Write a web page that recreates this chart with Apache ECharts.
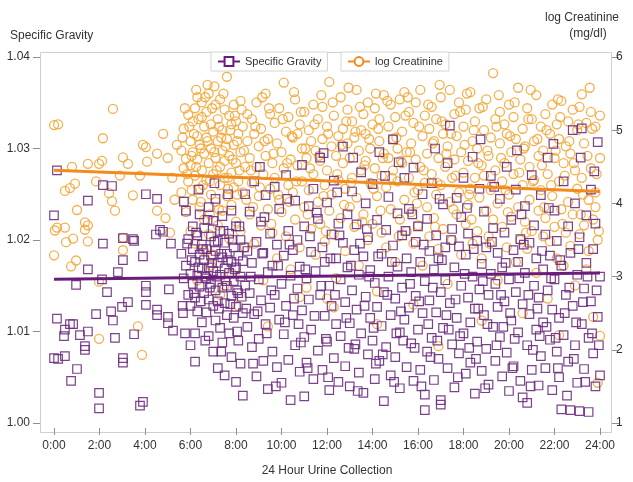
<!DOCTYPE html>
<html>
<head>
<meta charset="utf-8">
<script src="https://cdn.jsdelivr.net/npm/echarts@6/dist/echarts.min.js"></script>
<style>html,body{margin:0;padding:0;background:#fff}#c{width:633px;height:482px}</style>
</head>
<body>
<div id="c"></div>
<script>
// ---- axis ticks ----
const xMin = 0, xMax = 24, xStep = 2;
const sgMin = 1.00, sgMax = 1.04, sgStep = 0.01;
const lcMin = 1, lcMax = 6, lcStep = 1;

// ---- regression lines ----
const sgTrend = [[0,1.0157],[24,1.0164]];
const lcTrend = [[0,4.454],[24,4.163]];

// ---- Specific Gravity points [hour, SG] ----
const sgEarly = [[0.13,1.0276],[0.0,1.0227],[0.13,1.0114],[0.48,1.0102],[0.70,1.0108],[0.84,1.0108],[0.44,1.0095],[1.14,1.0096],[1.49,1.0100],[1.36,1.0084],[1.36,1.0080],[0.0,1.0071],[0.18,1.0070],[0.48,1.0073],[1.01,1.0059],[0.75,1.0046],[1.98,1.0033],[1.98,1.0016],[3.78,1.0019],[3.91,1.0023],[3.03,1.0071],[3.03,1.0066],[0.97,1.0151],[2.33,1.0143],[1.49,1.0168],[2.11,1.0157],[2.81,1.0165],[3.03,1.0178],[3.52,1.0199],[2.15,1.0196],[3.91,1.0182],[4.04,1.0150],[4.04,1.0143],[3.25,1.0132],[2.99,1.0127],[2.51,1.0122],[2.59,1.0112],[1.85,1.0119],[3.52,1.0097],[2.68,1.0093],[4.04,1.0129],[4.53,1.0124],[4.53,1.0118],[5.01,1.0116],[5.01,1.0109],[5.23,1.0101],[5.76,1.0098],[4.48,1.0206],[5.14,1.0196],[5.05,1.0146],[5.67,1.0120],[1.49,1.0243],[2.15,1.0260],[2.55,1.0259],[4.04,1.0250],[4.53,1.0245],[5.71,1.0242],[3.03,1.0202],[3.47,1.0201],[4.66,1.0211],[4.79,1.0209]];
const sgPeak = [[5.6,1.0185],[5.7,1.0158],[5.8,1.0172],[5.9,1.0140],[5.9,1.0201],[6.0,1.0163],[6.0,1.0128],[6.1,1.0190],[6.1,1.0152],[6.1,1.0215],[6.2,1.0176],[6.2,1.0137],[6.2,1.0098],[6.3,1.0161],[6.3,1.0205],[6.3,1.0122],[6.4,1.0184],[6.4,1.0149],[6.4,1.0228],[6.5,1.0169],[6.5,1.0110],[6.5,1.0195],[6.0,1.0085],[6.2,1.0067],[5.8,1.0232],
[6.6,1.0178],[6.6,1.0142],[6.6,1.0213],[6.7,1.0158],[6.7,1.0190],[6.7,1.0121],[6.8,1.0170],[6.8,1.0236],[6.8,1.0135],[6.8,1.0095],[6.9,1.0183],[6.9,1.0152],[6.9,1.0204],[7.0,1.0166],[7.0,1.0128],[7.0,1.0221],[7.0,1.0078],[7.1,1.0188],[7.1,1.0145],[7.1,1.0112],[7.1,1.0245],[7.2,1.0175],[7.2,1.0199],[7.2,1.0133],[7.2,1.0060],[7.3,1.0162],[7.3,1.0210],[7.3,1.0104],[7.4,1.0181],[7.4,1.0148],[7.4,1.0226],[7.4,1.0088],[7.5,1.0169],[7.5,1.0131],[7.5,1.0197],[7.5,1.0052],
[7.6,1.0185],[7.6,1.0150],[7.6,1.0118],[7.7,1.0207],[7.7,1.0164],[7.7,1.0098],[7.8,1.0176],[7.8,1.0139],[7.8,1.0232],[7.8,1.0072],[7.9,1.0192],[7.9,1.0155],[7.9,1.0115],[8.0,1.0170],[8.0,1.0215],[8.0,1.0127],[8.0,1.0045],[8.1,1.0183],[8.1,1.0142],[8.1,1.0090],[8.2,1.0160],[8.2,1.0200],[8.2,1.0065],[8.3,1.0177],[8.3,1.0120],[8.3,1.0030],[8.4,1.0150],[8.4,1.0250],[8.5,1.0188],[8.5,1.0105],
[5.65,1.0128],[5.85,1.0196],[6.05,1.0178],[6.15,1.0142],[6.25,1.0208],[6.35,1.0170],[6.45,1.0133],[6.55,1.0190],[6.65,1.0160],[6.75,1.0222],[6.85,1.0148],[6.95,1.0175],[7.05,1.0198],[7.15,1.0160],[7.25,1.0125],[7.35,1.0185],[7.45,1.0210],[7.55,1.0155],[7.65,1.0178],[7.75,1.0130],[7.85,1.0200],[7.95,1.0168],[8.05,1.0145],[8.15,1.0215],[8.25,1.0138],[8.35,1.0192],[8.45,1.0125],[6.35,1.0255],[7.05,1.0262],[7.65,1.0250],[6.65,1.0090],[7.35,1.0078],[8.05,1.0100]];
const sgDay = [[8.6,1.0231],[8.6,1.0142],[8.7,1.0083],[8.7,1.0175],[8.8,1.0264],[8.8,1.0119],[8.9,1.0051],[8.9,1.0198],[9.0,1.0157],[9.0,1.0092],[9.1,1.0220],[9.1,1.0134],[9.2,1.0068],[9.2,1.0186],[9.3,1.0249],[9.3,1.0108],[9.4,1.0165],[9.4,1.0037],[9.5,1.0207],[9.5,1.0126],
[9.6,1.0078],[9.6,1.0172],[9.7,1.0258],[9.7,1.0140],[9.8,1.0061],[9.8,1.0195],[9.9,1.0113],[9.9,1.0234],[10.0,1.0152],[10.0,1.0044],[10.1,1.0183],[10.1,1.0097],[10.2,1.0271],[10.2,1.0128],[10.3,1.0210],[10.3,1.0069],[10.4,1.0161],[10.4,1.0025],[10.5,1.0189],[10.5,1.0118],
[10.6,1.0243],[10.6,1.0085],[10.7,1.0147],[10.7,1.0200],[10.8,1.0056],[10.8,1.0171],[10.9,1.0282],[10.9,1.0123],[11.0,1.0094],[11.0,1.0215],[11.0,1.0029],[11.1,1.0158],[11.1,1.0066],[11.2,1.0237],[11.2,1.0135],[11.3,1.0187],[11.3,1.0102],[11.4,1.0048],[11.4,1.0256],[11.5,1.0166],
[11.6,1.0079],[11.6,1.0223],[11.7,1.0140],[11.7,1.0290],[11.8,1.0192],[11.8,1.0058],[11.9,1.0117],[11.9,1.0176],[12.0,1.0241],[12.0,1.0089],[12.1,1.0036],[12.1,1.0150],[12.2,1.0206],[12.2,1.0128],[12.3,1.0071],[12.3,1.0265],[12.4,1.0180],[12.4,1.0108],[12.5,1.0045],[12.5,1.0218],
[12.6,1.0157],[12.6,1.0095],[12.7,1.0302],[12.7,1.0197],[12.8,1.0132],[12.8,1.0062],[12.9,1.0228],[12.9,1.0170],[13.0,1.0109],[13.0,1.0040],[13.1,1.0253],[13.1,1.0145],[13.2,1.0081],[13.2,1.0189],[13.3,1.0217],[13.3,1.0124],[13.4,1.0055],[13.4,1.0162],[13.5,1.0274],[13.5,1.0098],
[13.6,1.0182],[13.6,1.0033],[13.7,1.0138],[13.7,1.0240],[13.8,1.0075],[13.8,1.0203],[13.9,1.0115],[13.9,1.0167],[14.0,1.0261],[14.0,1.0090],[14.1,1.0048],[14.1,1.0153],[14.2,1.0222],[14.2,1.0127],[14.3,1.0296],[14.3,1.0068],[14.4,1.0185],[14.4,1.0106],[14.5,1.0143],[14.5,1.0024],
[14.6,1.0211],[14.6,1.0083],[14.7,1.0160],[14.7,1.0247],[14.8,1.0118],[14.8,1.0052],[14.9,1.0310],[14.9,1.0194],[15.0,1.0136],[15.0,1.0072],[15.1,1.0229],[15.1,1.0171],[15.2,1.0099],[15.2,1.0038],[15.3,1.0205],[15.3,1.0148],[15.4,1.0268],[15.4,1.0113],[15.5,1.0061],[15.5,1.0180],
[15.6,1.0234],[15.6,1.0126],[15.7,1.0087],[15.7,1.0165],[15.8,1.0279],[15.8,1.0046],[15.9,1.0198],[15.9,1.0139]];
const sgLate = [[16.0,1.0102],[16.0,1.0215],[16.1,1.0058],[16.1,1.0176],[16.2,1.0250],[16.2,1.0120],[16.3,1.0014],[16.3,1.0031],[16.3,1.0155],[16.4,1.0078],[16.4,1.0223],[16.5,1.0188],[16.5,1.0134],
[16.6,1.0093],[16.6,1.0262],[16.7,1.0168],[16.7,1.0047],[16.8,1.0205],[16.8,1.0121],[16.9,1.0180],[16.9,1.0070],[17.0,1.0025],[17.0,1.0020],[17.0,1.0143],[17.1,1.0239],[17.1,1.0104],[17.2,1.0192],[17.2,1.0156],[17.3,1.0060],[17.3,1.0284],[17.4,1.0325],[17.4,1.0131],[17.5,1.0212],[17.5,1.0086],
[17.6,1.0170],[17.6,1.0039],[17.7,1.0246],[17.7,1.0115],[17.8,1.0193],[17.8,1.0076],[17.9,1.0150],[17.9,1.0225],[18.0,1.0098],[18.0,1.0268],[18.1,1.0054],[18.1,1.0184],[18.2,1.0137],[18.2,1.0207],[18.3,1.0110],[18.3,1.0066],[18.4,1.0160],[18.4,1.0291],[18.5,1.0125],[18.5,1.0032],
[18.6,1.0199],[18.6,1.0089],[18.7,1.0256],[18.7,1.0146],[18.8,1.0057],[18.8,1.0174],[18.9,1.0118],[18.9,1.0231],[19.0,1.0081],[19.0,1.0192],[19.1,1.0140],[19.1,1.0042],[19.2,1.0270],[19.2,1.0163],[19.3,1.0105],[19.3,1.0213],[19.4,1.0068],[19.4,1.0152],[19.5,1.0186],[19.5,1.0127],
[19.6,1.0245],[19.6,1.0094],[19.7,1.0051],[19.7,1.0170],[19.8,1.0208],[19.8,1.0133],[19.9,1.0280],[19.9,1.0077],[20.0,1.0157],[20.0,1.0035],[20.1,1.0222],[20.1,1.0112],[20.2,1.0189],[20.2,1.0062],[20.3,1.0143],[20.3,1.0255],[20.4,1.0099],[20.4,1.0176],[20.5,1.0046],[20.5,1.0201],
[20.6,1.0130],[20.6,1.0028],[20.7,1.0237],[20.7,1.0164],[20.8,1.0085],[20.8,1.0022],[20.9,1.0197],[20.9,1.0119],[21.0,1.0271],[21.0,1.0058],[21.1,1.0150],[21.1,1.0216],[21.2,1.0102],[21.2,1.0180],[21.3,1.0041],[21.3,1.0137],[21.4,1.0249],[21.4,1.0073],[21.5,1.0168],[21.5,1.0110],
[21.6,1.0206],[21.6,1.0060],[21.7,1.0145],[21.7,1.0290],[21.8,1.0091],[21.8,1.0183],[21.9,1.0124],[21.9,1.0036],[22.0,1.0232],[22.0,1.0157],[22.1,1.0078],[22.1,1.0199],[22.2,1.0115],[22.2,1.0050],[22.3,1.0015],[22.3,1.0172],[22.4,1.0264],[22.4,1.0096],[22.5,1.0140],
[22.6,1.0215],[22.6,1.0067],[22.7,1.0014],[22.7,1.0186],[22.8,1.0320],[22.8,1.0128],[22.9,1.0085],[22.9,1.0240],[23.0,1.0162],[23.0,1.0044],[23.1,1.0013],[23.1,1.0203],[23.2,1.0322],[23.2,1.0108],[23.3,1.0147],[23.3,1.0059],[23.4,1.0227],[23.4,1.0175],[23.5,1.0012],[23.5,1.0093],
[23.6,1.0255],[23.6,1.0133],[23.7,1.0076],[23.7,1.0190],[23.8,1.0040],[23.8,1.0218],[23.9,1.0307],[23.9,1.0116],[24.0,1.0160],[24.0,1.0052]];
const sgFill = [[8.65,1.0160],[8.95,1.0122],[9.15,1.0185],[9.35,1.0098],[9.55,1.0145],[9.85,1.0172],[10.15,1.0110],[10.35,1.0195],[10.55,1.0136],[10.85,1.0088],[11.05,1.0168],[11.25,1.0204],[11.45,1.0117],[11.75,1.0150],[11.95,1.0092],[12.15,1.0180],[12.35,1.0140],[12.55,1.0205],[12.85,1.0115],[13.05,1.0172],[13.25,1.0086],[13.45,1.0196],[13.65,1.0128],[13.85,1.0160],[14.05,1.0104],[14.25,1.0182],[14.45,1.0075],[14.65,1.0140],[14.85,1.0176],[15.05,1.0098],[15.25,1.0122],[15.45,1.0210],[15.65,1.0152],[15.85,1.0082],[16.05,1.0133],[16.25,1.0195],[16.45,1.0108],[16.65,1.0148],[16.85,1.0090],[17.05,1.0178],[17.25,1.0118],[17.45,1.0200],[17.65,1.0135],[17.85,1.0095],[18.05,1.0163],[18.25,1.0082],[18.45,1.0190],[18.65,1.0125],[18.85,1.0155],[19.05,1.0108],[19.25,1.0198],[19.45,1.0085],[19.65,1.0140],[19.85,1.0175],[20.05,1.0120],[20.25,1.0092],[20.45,1.0158],[20.65,1.0195],[20.85,1.0140],[21.05,1.0080],[21.25,1.0125],[21.45,1.0188],[21.65,1.0105],[21.85,1.0158],[22.05,1.0093],[22.25,1.0178],[22.45,1.0120],[22.65,1.0148],[22.85,1.0070],[23.05,1.0190],[23.25,1.0132],[23.45,1.0160],[23.65,1.0098],[23.85,1.0145],
[8.75,1.0065],[9.25,1.0225],[9.75,1.0040],[10.25,1.0245],[10.75,1.0108],[11.15,1.0060],[11.55,1.0230],[12.05,1.0050],[12.45,1.0252],[12.95,1.0082],[13.35,1.0035],[13.75,1.0212],[14.15,1.0065],[14.55,1.0270],[14.95,1.0045],[15.35,1.0090],[15.75,1.0228],[16.15,1.0040],[16.55,1.0072],[16.95,1.0245],[17.35,1.0102],[17.75,1.0050],[18.15,1.0235],[18.55,1.0070],[18.95,1.0038],[19.35,1.0258],[19.75,1.0105],[20.15,1.0060],[20.55,1.0228],[20.95,1.0040],[21.35,1.0095],[21.75,1.0235],[22.15,1.0060],[22.55,1.0030],[22.95,1.0110],[23.35,1.0045],[23.75,1.0275],[23.95,1.0085],
[9.05,1.0280],[11.85,1.0295],[13.15,1.0290],[15.15,1.0285],[16.75,1.0300],[18.75,1.0310],[20.35,1.0298],[21.95,1.0305],[23.15,1.0290]];

// ---- log Creatinine points [hour, log mg/dl] ----
const lcEarly = [[0.0,5.07],[0.18,5.08],[2.59,5.29],[2.15,4.89],[3.91,4.80],[4.04,4.77],[3.03,4.63],[2.11,4.58],[1.98,4.54],[1.49,4.54],[0.79,4.50],[0.48,4.17],[0.70,4.21],[0.92,4.27],[1.85,4.30],[2.42,4.14],[2.55,4.03],[2.68,3.90],[2.90,4.38],[3.25,4.54],[4.09,4.57],[4.53,4.68],[3.47,4.11],[3.78,4.38],[4.53,3.90],[1.01,3.91],[0.13,3.67],[0.48,3.67],[0.53,3.47],[1.36,3.74],[1.36,3.64],[1.49,3.70],[0.84,3.52],[1.49,3.48],[0.04,3.63],[3.03,3.53],[3.03,3.36],[0.0,3.29],[0.75,3.14],[0.97,3.22],[1.98,2.93],[1.98,2.15],[3.69,2.32],[3.87,1.93],[4.8,4.95],[5.0,4.62],[5.2,4.35],[5.3,4.05],[4.9,3.80],[5.4,4.80],[5.1,3.60]];
const lcPeak = [[5.6,4.72],[5.6,4.15],[5.7,5.02],[5.7,4.48],[5.8,3.88],[5.8,4.61],[5.9,5.21],[5.9,4.30],[6.0,4.85],[6.0,3.62],[6.0,4.52],[6.1,5.12],[6.1,4.05],[6.1,4.70],[6.2,5.30],[6.2,4.38],[6.2,3.45],[6.3,4.92],[6.3,4.60],[6.3,5.45],[6.4,4.20],[6.4,4.80],[6.4,3.95],[6.5,5.18],[6.5,4.45],[6.5,5.38],[6.6,4.68],[6.6,3.78],[6.6,5.05],[6.7,4.32],[6.7,4.90],[6.7,5.25],[6.8,4.55],[6.8,3.58],[6.8,5.50],[6.9,4.12],[6.9,4.75],[6.9,5.08],[7.0,4.40],[7.0,4.98],[7.0,3.30],[7.1,5.35],[7.1,4.62],[7.1,4.02],[7.2,4.85],[7.2,5.15],[7.2,3.70],[7.3,4.50],[7.3,5.42],[7.3,4.25],[7.4,4.72],[7.4,3.90],[7.4,5.00],[7.5,4.35],[7.5,5.28],[7.5,4.58],[7.6,5.73],[7.6,4.10],[7.6,4.88],[7.7,5.20],[7.7,3.52],[7.7,4.65],[7.8,4.42],[7.8,5.08],[7.8,3.98],[7.9,4.80],[7.9,5.35],[7.9,4.22],[8.0,4.55],[8.0,3.75],[8.0,5.12],[8.1,4.95],[8.1,4.30],[8.2,5.40],[8.2,3.62],[8.2,4.70],[8.3,4.15],[8.3,5.05],[8.4,4.50],[8.4,3.40],[8.5,4.85],[8.5,5.22],[6.3,2.95],[6.9,3.15],[7.3,2.75],[7.8,3.05],[8.1,2.60],[6.6,3.35],[7.5,2.88],
[5.65,4.90],[5.75,5.30],[5.85,4.40],[5.95,5.05],[6.05,4.65],[6.15,4.95],[6.25,4.50],[6.35,5.15],[6.45,4.75],[6.55,4.25],[6.65,5.45],[6.75,4.85],[6.85,4.30],[6.95,5.30],[7.05,4.70],[7.15,4.45],[7.25,5.05],[7.35,4.90],[7.45,5.50],[7.55,4.78],[7.65,4.35],[7.75,5.00],[7.85,4.60],[7.95,5.20],[8.05,4.85],[8.15,4.45],[8.25,5.28],[8.35,4.72],[8.45,4.05],[6.05,4.18],[6.45,4.02],[6.85,3.85],[7.25,3.92],[7.65,4.20],[8.05,4.12],[6.25,5.55],[7.05,5.60],[6.75,5.62]];
const lcDay = [[8.6,4.62],[8.6,3.85],[8.7,5.15],[8.7,4.28],[8.8,4.95],[8.8,3.45],[8.9,4.50],[8.9,5.38],[9.0,4.10],[9.0,4.78],[9.1,3.70],[9.1,5.02],[9.2,4.40],[9.2,2.95],[9.3,5.50],[9.3,4.65],[9.4,3.92],[9.4,4.88],[9.5,5.22],[9.5,4.20],
[9.6,4.55],[9.6,3.60],[9.7,5.10],[9.7,4.35],[9.8,4.82],[9.8,3.25],[9.9,5.30],[9.9,4.05],[10.0,4.70],[10.0,3.88],[10.1,5.65],[10.1,4.48],[10.2,4.98],[10.2,3.55],[10.3,4.25],[10.3,5.18],[10.4,4.60],[10.4,3.10],[10.5,4.90],[10.5,4.15],
[10.6,5.42],[10.6,3.78],[10.7,4.52],[10.7,4.95],[10.8,3.40],[10.8,5.08],[10.9,4.30],[10.9,4.75],[11.0,5.25],[11.0,3.95],[11.1,4.62],[11.1,2.85],[11.2,5.00],[11.2,4.18],[11.3,4.85],[11.3,3.65],[11.4,5.35],[11.4,4.40],[11.5,4.72],[11.5,3.30],
[11.6,5.15],[11.6,4.02],[11.7,4.58],[11.7,3.72],[11.8,5.32],[11.8,4.88],[11.9,4.25],[11.9,3.48],[12.0,5.05],[12.0,4.45],[12.1,5.66],[12.1,3.90],[12.2,4.78],[12.2,4.12],[12.3,5.20],[12.3,3.58],[12.4,4.65],[12.4,2.98],[12.5,4.92],[12.5,4.32],
[12.6,5.45],[12.6,3.80],[12.7,4.55],[12.7,5.02],[12.8,4.20],[12.8,3.35],[12.9,4.82],[12.9,5.28],[13.0,3.95],[13.0,4.62],[13.1,5.12],[13.1,4.35],[13.2,3.68],[13.2,4.90],[13.3,5.55],[13.3,4.08],[13.4,4.72],[13.4,3.15],[13.5,5.00],[13.5,4.45],
[13.6,3.85],[13.6,5.22],[13.7,4.58],[13.7,4.95],[13.8,3.50],[13.8,5.38],[13.9,4.28],[13.9,4.75],[14.0,5.08],[14.0,3.72],[14.1,4.48],[14.1,5.30],[14.2,4.10],[14.2,2.80],[14.3,4.85],[14.3,5.15],[14.4,4.38],[14.4,3.60],[14.5,4.68],[14.5,5.48],
[14.6,4.22],[14.6,3.40],[14.7,5.05],[14.7,4.62],[14.8,3.92],[14.8,5.35],[14.9,4.45],[14.9,4.88],[15.0,3.20],[15.0,5.18],[15.1,4.30],[15.1,4.75],[15.2,5.42],[15.2,3.78],[15.3,4.55],[15.3,4.98],[15.4,5.52],[15.4,4.05],[15.5,3.62],[15.5,4.70],
[15.6,5.25],[15.6,4.35],[15.7,3.88],[15.7,4.82],[15.8,5.10],[15.8,3.45],[15.9,4.60],[15.9,5.38]];
const lcLate = [[16.0,4.18],[16.0,3.70],[16.1,5.55],[16.1,4.50],[16.2,4.92],[16.2,3.15],[16.3,4.28],[16.3,5.20],[16.4,3.95],[16.4,4.68],[16.5,5.02],[16.5,3.55],
[16.6,4.40],[16.6,5.32],[16.7,3.80],[16.7,4.85],[16.8,5.15],[16.8,4.12],[16.9,3.38],[16.9,4.62],[17.0,5.45],[17.0,4.25],[17.1,4.95],[17.1,3.65],[17.2,5.08],[17.2,4.50],[17.3,2.90],[17.3,4.78],[17.4,5.55],[17.4,4.02],[17.5,4.35],[17.5,3.50],
[17.6,5.22],[17.6,4.60],[17.7,3.85],[17.7,4.92],[17.8,5.38],[17.8,4.15],[17.9,3.30],[17.9,4.70],[18.0,5.05],[18.0,4.42],[18.1,3.72],[18.1,5.28],[18.2,4.58],[18.2,3.98],[18.3,5.52],[18.3,4.20],[18.4,4.85],[18.4,3.45],[18.5,5.12],[18.5,4.35],
[18.6,3.62],[18.6,4.75],[18.7,5.30],[18.7,4.08],[18.8,4.52],[18.8,3.25],[18.9,5.00],[18.9,4.38],[19.0,3.90],[19.0,5.42],[19.1,4.65],[19.1,3.55],[19.2,4.90],[19.2,4.18],[19.3,5.78],[19.3,3.78],[19.4,4.45],[19.4,5.15],[19.5,4.00],[19.5,2.95],
[19.6,4.82],[19.6,5.25],[19.7,3.68],[19.7,4.30],[19.8,5.08],[19.8,4.55],[19.9,3.40],[19.9,4.95],[20.0,5.35],[20.0,4.12],[20.1,3.82],[20.1,4.70],[20.2,5.18],[20.2,4.40],[20.3,3.20],[20.3,4.88],[20.4,5.58],[20.4,3.95],[20.5,4.60],[20.5,3.50],
[20.6,5.02],[20.6,4.25],[20.7,3.75],[20.7,4.78],[20.8,5.30],[20.8,3.38],[20.9,4.50],[20.9,4.05],[21.0,5.15],[21.0,3.62],[21.1,4.85],[21.1,4.32],[21.2,5.48],[21.2,3.05],[21.3,4.65],[21.3,3.90],[21.4,5.05],[21.4,4.18],[21.5,3.55],[21.5,4.72],
[21.6,5.22],[21.6,3.80],[21.7,4.40],[21.7,2.70],[21.8,4.95],[21.8,3.48],[21.9,5.35],[21.9,4.10],[22.0,3.68],[22.0,4.62],[22.1,5.08],[22.1,3.25],[22.2,4.30],[22.2,4.88],[22.3,3.92],[22.3,5.40],[22.4,4.55],[22.4,3.15],[22.5,4.78],[22.5,3.60],
[22.6,5.12],[22.6,4.02],[22.7,3.42],[22.7,4.68],[22.8,5.28],[22.8,3.85],[22.9,4.45],[22.9,2.88],[23.0,5.00],[23.0,4.20],[23.1,3.58],[23.1,5.32],[23.2,5.49],[23.2,4.35],[23.3,3.70],[23.3,4.82],[23.4,3.10],[23.4,5.10],[23.5,4.05],[23.5,3.35],
[23.6,5.25],[23.6,4.48],[23.7,3.78],[23.7,2.45],[23.8,5.05],[23.8,4.15],[23.9,3.50],[23.9,1.55],[24.0,4.62],[24.0,2.19],[23.8,3.95],[24.0,5.20]];
const lcFill = [[8.65,4.45],[8.85,5.05],[9.05,4.22],[9.25,4.85],[9.45,5.30],[9.65,4.68],[9.85,4.12],[10.05,5.15],[10.25,4.55],[10.45,4.92],[10.65,4.30],[10.85,5.25],[11.05,4.75],[11.25,4.48],[11.45,5.08],[11.65,4.65],[11.85,4.10],[12.05,4.95],[12.25,5.38],[12.45,4.40],[12.65,4.80],[12.85,5.12],[13.05,4.28],[13.25,4.98],[13.45,5.32],[13.65,4.52],[13.85,4.88],[14.05,4.20],[14.25,5.02],[14.45,4.62],[14.65,5.40],[14.85,4.35],[15.05,4.90],[15.25,4.58],[15.45,5.20],[15.65,4.70],[15.85,4.15],[16.05,5.05],[16.25,4.45],[16.45,5.35],[16.65,4.82],[16.85,4.28],[17.05,5.12],[17.25,4.68],[17.45,4.95],[17.65,4.38],[17.85,5.25],[18.05,4.80],[18.25,4.12],[18.45,5.00],[18.65,4.55],[18.85,5.32],[19.05,4.72],[19.25,4.25],[19.45,5.05],[19.65,4.62],[19.85,4.18],[20.05,4.92],[20.25,5.38],[20.45,4.42],[20.65,4.75],[20.85,5.15],[21.05,4.30],[21.25,4.88],[21.45,4.52],[21.65,5.00],[21.85,4.25],[22.05,4.72],[22.25,5.18],[22.45,4.38],[22.65,4.85],[22.85,4.55],[23.05,5.08],[23.25,4.12],[23.45,4.65],[23.65,5.02],[23.85,4.40],
[8.75,3.95],[9.55,3.72],[10.35,4.02],[11.15,3.85],[11.95,3.62],[12.75,3.98],[13.55,3.75],[14.35,3.90],[15.15,3.55],[15.95,4.00],[16.75,3.68],[17.55,3.92],[18.35,3.78],[19.15,3.45],[19.95,3.88],[20.75,3.60],[21.55,3.95],[22.35,3.72],[23.15,3.85],[23.95,3.62],
[9.15,5.45],[10.55,5.52],[11.75,5.48],[12.95,5.58],[14.15,5.50],[15.55,5.45],[16.95,5.62],[18.15,5.50],[19.55,5.48],[20.95,5.55],[22.15,5.42],[23.55,5.58]];
const lcLow = [[9.4,2.32],[10.8,2.72],[12.0,2.70],[12.3,2.58],[15.8,2.62],[18.8,2.40],[20.6,2.50],[22.2,2.20],[16.9,2.05],[14.2,2.35]];

const sgPoints = sgEarly.concat(sgPeak, sgDay, sgLate, sgFill);
const lcPoints = lcEarly.concat(lcPeak, lcDay, lcLate, lcFill, lcLow);

const PURPLE = '#6e2c80', PURPLE_LINE = '#6a1c7a';
const ORANGE = '#f3a73a', ORANGE_LINE = '#f28a1c';
const FONT = 'Liberation Sans, Arial, sans-serif';
const TXT = '#333';
const BOX = '#cfcfcf';
const TICK = '#8f8f8f';

const chart = echarts.init(document.getElementById('c'), null, {renderer: 'canvas'});
chart.setOption({
  animation: false,
  backgroundColor: '#fff',
  textStyle: {fontFamily: FONT},
  grid: {left: 54, right: 33, top: 57, bottom: 54, show: false},
  legend: [
    {data: ['Specific Gravity'], left: 211, top: 52, padding: [4, 6, 4, 6], itemWidth: 22, itemHeight: 11, itemGap: 4,
     borderColor: '#d4d4d4', borderWidth: 1, backgroundColor: '#fff', textStyle: {color: TXT, fontSize: 11, fontFamily: FONT}, selectedMode: false},
    {data: ['log Creatinine'], left: 341, top: 52, padding: [4, 6, 4, 6], itemWidth: 22, itemHeight: 11, itemGap: 4,
     borderColor: '#d4d4d4', borderWidth: 1, backgroundColor: '#fff', textStyle: {color: TXT, fontSize: 11, fontFamily: FONT}, selectedMode: false}
  ],
  xAxis: {
    type: 'value', min: xMin, max: xMax, interval: xStep, offset: 5,
    name: '24 Hour Urine Collection', nameLocation: 'middle', nameGap: 37,
    nameTextStyle: {color: TXT, fontSize: 12, fontFamily: FONT},
    axisLine: {show: false, onZero: false},
    axisTick: {show: true, inside: false, length: 7, lineStyle: {color: TICK}},
    axisLabel: {color: TXT, fontSize: 12, margin: 12, fontFamily: FONT, formatter: v => v + ':00'},
    splitLine: {show: false}
  },
  yAxis: [
    {type: 'value', position: 'left', min: sgMin, max: sgMax, interval: sgStep, offset: 14,
     axisLine: {show: false, onZero: false},
     axisTick: {show: true, inside: false, length: 7, lineStyle: {color: TICK}},
     axisLabel: {color: TXT, fontSize: 12, margin: 10, fontFamily: FONT, formatter: v => v.toFixed(2)},
     splitLine: {show: false}},
    {type: 'value', position: 'right', min: lcMin, max: lcMax, interval: lcStep, offset: 12,
     axisLine: {show: false, onZero: false},
     axisTick: {show: true, inside: false, length: 7, lineStyle: {color: TICK}},
     axisLabel: {color: TXT, fontSize: 12, margin: 4, fontFamily: FONT, formatter: v => String(v)},
     splitLine: {show: false}}
  ],
  graphic: [
    {type: 'rect', silent: true, z: 0, shape: {x: 40.5, y: 52.5, width: 571, height: 380}, style: {fill: 'none', stroke: BOX, lineWidth: 1}},
    {type: 'text', left: 10, top: 30, style: {text: 'Specific Gravity', fill: TXT, font: '12px ' + FONT}},
    {type: 'text', x: 582, y: 12, style: {text: 'log Creatinine', fill: TXT, font: '12px ' + FONT, textAlign: 'center'}},
    {type: 'text', x: 588, y: 28, style: {text: '(mg/dl)', fill: TXT, font: '12px ' + FONT, textAlign: 'center'}}
  ],
  series: [
    {name: 'Specific Gravity', type: 'line', yAxisIndex: 0, data: sgTrend, symbol: 'emptyRect', showSymbol: false,
     lineStyle: {color: PURPLE_LINE, width: 3}, itemStyle: {color: PURPLE_LINE}, z: 5, silent: true},
    {name: 'log Creatinine', type: 'line', yAxisIndex: 1, data: lcTrend, symbol: 'emptyCircle', showSymbol: false,
     lineStyle: {color: ORANGE_LINE, width: 3}, itemStyle: {color: ORANGE_LINE}, z: 5, silent: true},
    {name: 'log Creatinine', type: 'scatter', yAxisIndex: 1, data: lcPoints, symbol: 'circle', symbolSize: 9, clip: false,
     itemStyle: {color: 'rgba(0,0,0,0)', borderColor: ORANGE, borderWidth: 1.3, opacity: 0.9}, z: 2},
    {name: 'Specific Gravity', type: 'scatter', yAxisIndex: 0, data: sgPoints, symbol: 'rect', symbolSize: 8.5, clip: false,
     itemStyle: {color: 'rgba(0,0,0,0)', borderColor: PURPLE, borderWidth: 1.2, opacity: 0.9}, z: 3}
  ]
});
</script>
</body>
</html>
